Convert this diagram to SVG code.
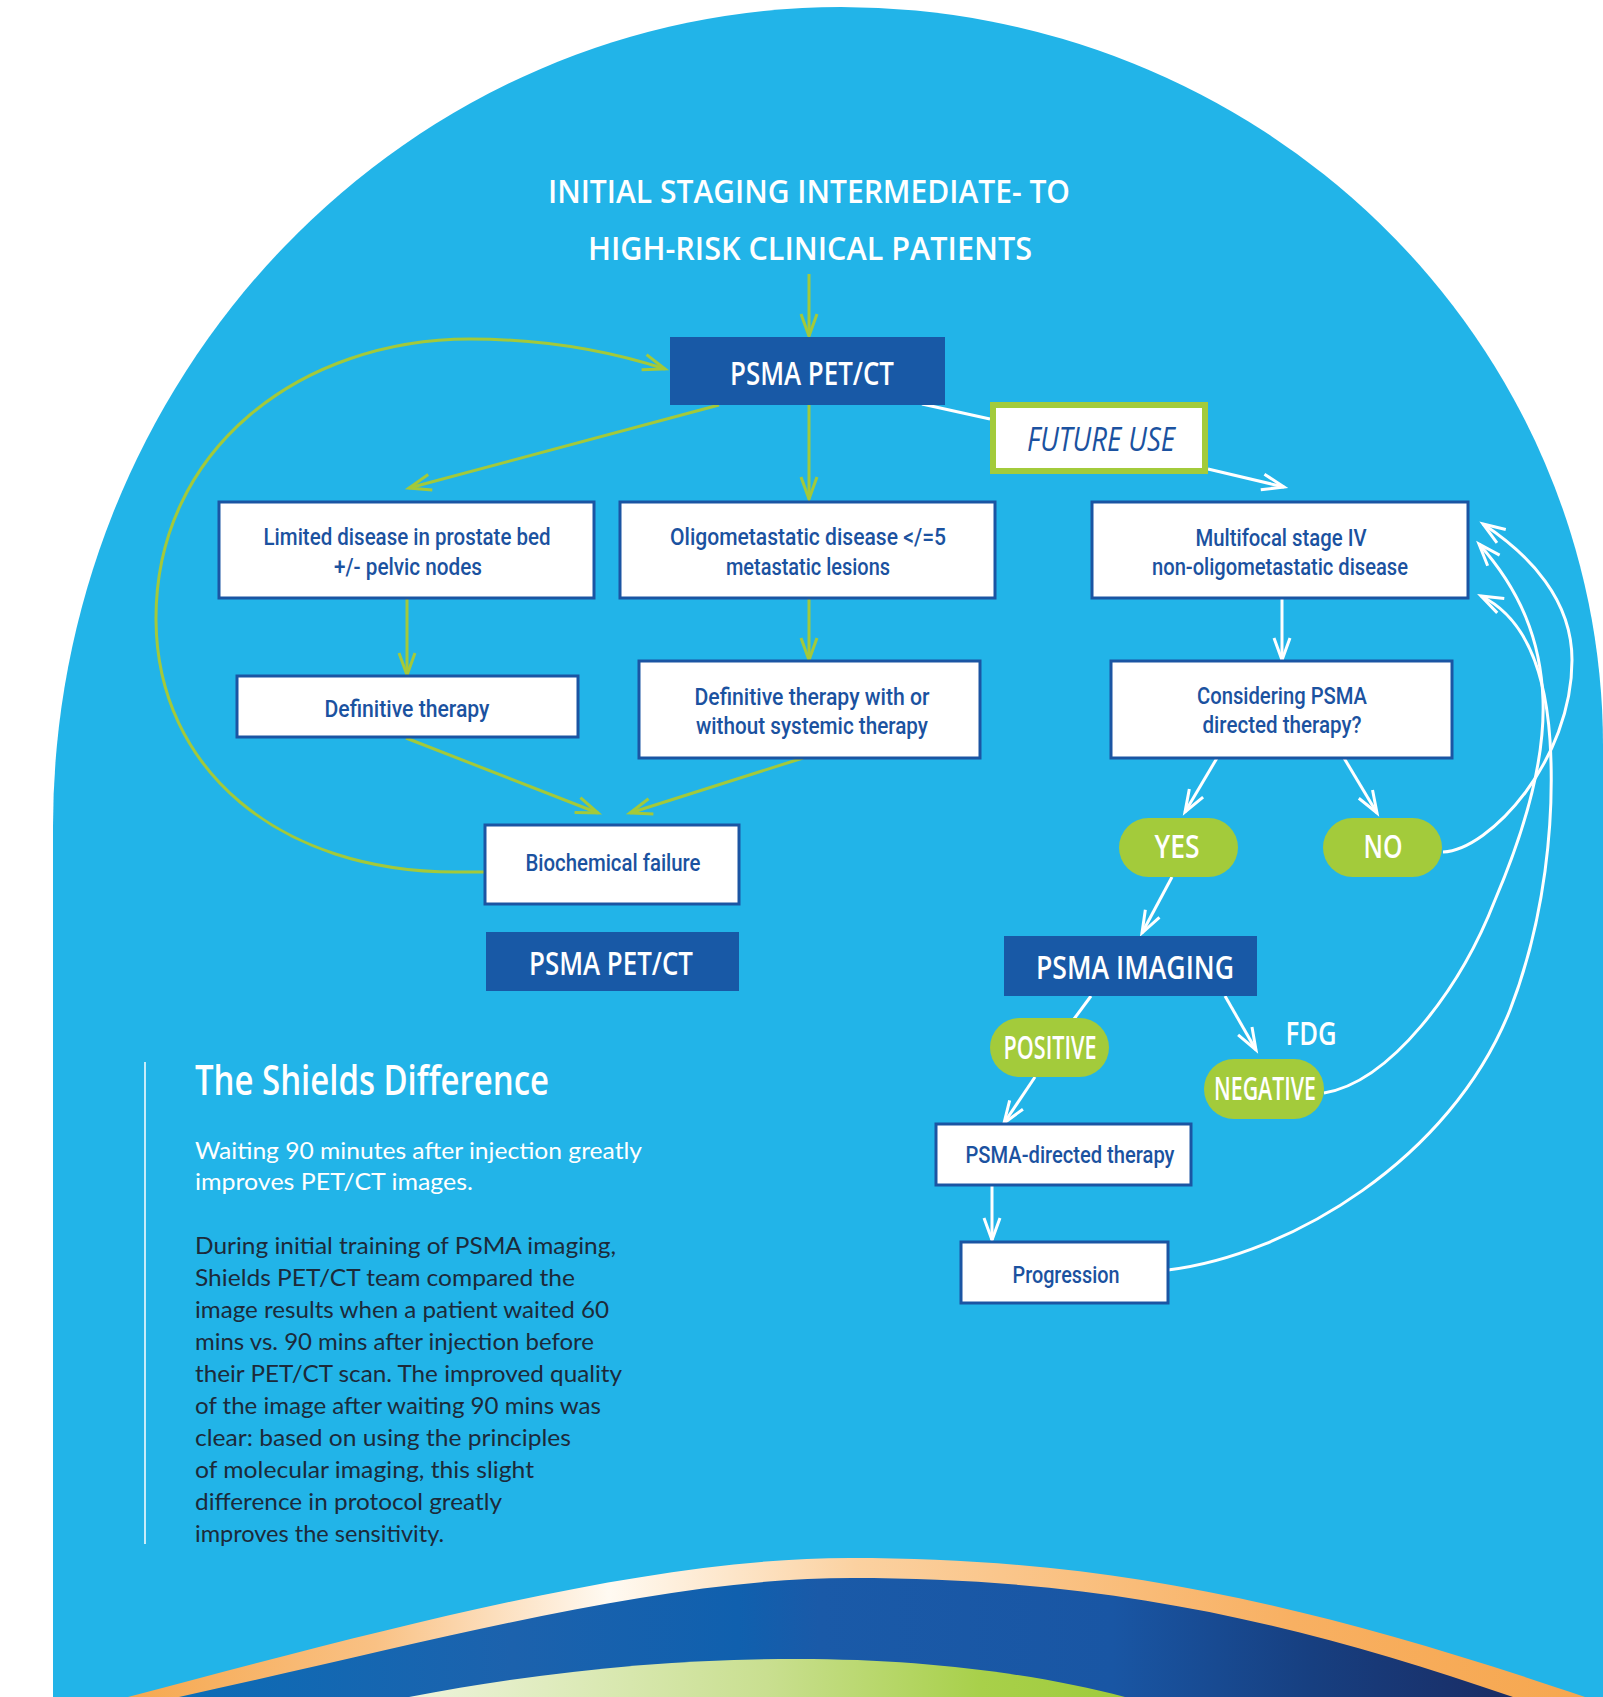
<svg xmlns="http://www.w3.org/2000/svg" width="1603" height="1697" viewBox="0 0 1603 1697">
<defs>
<style>
.box{fill:#fff;stroke:#1b55a3;stroke-width:3}
.dbox{fill:#1859a6}
.pill{fill:#a3cb3b}
.nt{font-family:Roboto,"Liberation Sans",sans-serif;font-weight:500;fill:#1b52a0;font-size:24px;text-anchor:middle}
.wt{font-family:"Open Sans","Liberation Sans",sans-serif;font-weight:600;fill:#fff;font-size:33px;text-anchor:middle}
.gl{fill:none;stroke:#a3c93a;stroke-width:3}
.wl{fill:none;stroke:#fff;stroke-width:3}
.body{font-family:Lato,"Noto Sans","Liberation Sans",sans-serif;font-size:23px}
</style>
<marker id="ag" viewBox="-25 -10 30 20" refX="0" refY="0" markerWidth="30" markerHeight="20" markerUnits="userSpaceOnUse" orient="auto" overflow="visible"><path d="M-22,-8 L0,0 L-22,8" fill="none" stroke="#a3c93a" stroke-width="3"/></marker>
<marker id="aw" viewBox="-25 -10 30 20" refX="0" refY="0" markerWidth="30" markerHeight="20" markerUnits="userSpaceOnUse" orient="auto" overflow="visible"><path d="M-22,-8 L0,0 L-22,8" fill="none" stroke="#fff" stroke-width="3"/></marker>
<linearGradient id="gOr" gradientUnits="userSpaceOnUse" x1="128" y1="0" x2="1585" y2="0">
<stop offset="0" stop-color="#f6a84f"/><stop offset="0.17" stop-color="#f9c184"/><stop offset="0.33" stop-color="#fffaf2"/><stop offset="0.5" stop-color="#fbd1a0"/><stop offset="0.8" stop-color="#f8b062"/><stop offset="1" stop-color="#f6a74f"/>
</linearGradient>
<linearGradient id="gBl" gradientUnits="userSpaceOnUse" x1="179" y1="0" x2="1513" y2="0">
<stop offset="0" stop-color="#0c6cb6"/><stop offset="0.25" stop-color="#1c62ad"/><stop offset="0.42" stop-color="#1060ae"/><stop offset="0.48" stop-color="#1a5aa8"/><stop offset="0.7" stop-color="#1956a4"/><stop offset="0.85" stop-color="#173f80"/><stop offset="1" stop-color="#1a2c64"/>
</linearGradient>
<linearGradient id="gGr" gradientUnits="userSpaceOnUse" x1="409" y1="0" x2="1125" y2="0">
<stop offset="0" stop-color="#eef4dc"/><stop offset="0.5" stop-color="#c9df90"/><stop offset="0.8" stop-color="#a8d04a"/><stop offset="1" stop-color="#9fcb3c"/>
</linearGradient>
</defs>
<rect x="0" y="0" width="1603" height="1697" fill="#fff"/>
<path d="M53,1697 L53,827 A788,820 0 0 1 841,7 A762,739 0 0 1 1603,746 L1603,1697 Z" fill="#22b4e8"/>
<g id="arches">
<path d="M128,1697 C400,1625 650,1558 850,1558 C1100,1558 1300,1600 1585,1697 Z" fill="url(#gOr)"/>
<path d="M179,1697 C440,1640 660,1578 852,1578 C1100,1578 1290,1620 1513,1697 Z" fill="url(#gBl)"/>
<path d="M409,1697 C550,1670 680,1659 797,1659 C930,1659 1040,1675 1125,1697 Z" fill="url(#gGr)"/>
</g>
<g id="title">
<text x="809" y="203" class="wt" font-size="37" textLength="522" lengthAdjust="spacingAndGlyphs">INITIAL STAGING INTERMEDIATE- TO</text>
<text x="810" y="260" class="wt" font-size="37" textLength="444" lengthAdjust="spacingAndGlyphs">HIGH-RISK CLINICAL PATIENTS</text>
</g>
<g id="connectors">
<line class="gl" x1="809" y1="274" x2="809" y2="336" marker-end="url(#ag)"/>
<line class="gl" x1="719" y1="405" x2="409" y2="488" marker-end="url(#ag)"/>
<line class="gl" x1="809" y1="405" x2="809" y2="499" marker-end="url(#ag)"/>
<line class="gl" x1="407" y1="598" x2="407" y2="675" marker-end="url(#ag)"/>
<line class="gl" x1="809" y1="598" x2="809" y2="660" marker-end="url(#ag)"/>
<line class="gl" x1="406" y1="738" x2="598" y2="813" marker-end="url(#ag)"/>
<line class="gl" x1="803" y1="758" x2="630" y2="813" marker-end="url(#ag)"/>
<path class="gl" d="M485,872 L455,872 C280,872 157,770 156,620 C155,450 300,339 470,339 C560,339 625,356 665,369" marker-end="url(#ag)"/>
<line class="wl" x1="922" y1="404" x2="990" y2="419"/>
<line class="wl" x1="1208" y1="469" x2="1284" y2="487" marker-end="url(#aw)"/>
<line class="wl" x1="1282" y1="599" x2="1282" y2="660" marker-end="url(#aw)"/>
<line class="wl" x1="1217" y1="758" x2="1185" y2="812" marker-end="url(#aw)"/>
<line class="wl" x1="1344" y1="758" x2="1377" y2="813" marker-end="url(#aw)"/>
<line class="wl" x1="1172" y1="877" x2="1142" y2="933" marker-end="url(#aw)"/>
<line class="wl" x1="1091" y1="996" x2="1074" y2="1019"/>
<line class="wl" x1="1035" y1="1077" x2="1004" y2="1123" marker-end="url(#aw)"/>
<line class="wl" x1="1225" y1="996" x2="1256" y2="1050" marker-end="url(#aw)"/>
<line class="wl" x1="992" y1="1186" x2="992" y2="1240" marker-end="url(#aw)"/>
<path class="wl" d="M1443,852 C1490,850 1572,760 1572,660 C1572,600 1530,555 1483,524" marker-end="url(#aw)"/>
<path class="wl" d="M1324,1093 C1390,1082 1460,990 1495,900 C1525,830 1545,760 1543,700 C1541,640 1520,590 1479,544" marker-end="url(#aw)"/>
<path class="wl" d="M1168,1270 C1290,1255 1450,1160 1510,1010 C1545,920 1555,820 1550,740 C1546,680 1530,620 1481,596" marker-end="url(#aw)"/>
</g>
<g id="n-psma-top"><rect class="dbox" x="670" y="337" width="275" height="68"/><text class="wt" x="812" y="385" textLength="164" lengthAdjust="spacingAndGlyphs">PSMA PET/CT</text></g>
<g id="n-future"><rect x="993" y="405" width="212" height="66" fill="#fff" stroke="#a3cb3b" stroke-width="6"/><text x="1101" y="451" font-family="'Open Sans','Liberation Sans',sans-serif" font-style="italic" font-size="33" fill="#1b52a0" text-anchor="middle" textLength="148" lengthAdjust="spacingAndGlyphs">FUTURE USE</text></g>
<g id="n-limited"><rect class="box" x="219" y="502" width="375" height="96"/><text class="nt" x="407" y="545" textLength="287" lengthAdjust="spacingAndGlyphs">Limited disease in prostate bed</text><text class="nt" x="408" y="575" textLength="148" lengthAdjust="spacingAndGlyphs">+/- pelvic nodes</text></g>
<g id="n-oligo"><rect class="box" x="620" y="502" width="375" height="96"/><text class="nt" x="808" y="545" textLength="276" lengthAdjust="spacingAndGlyphs">Oligometastatic disease &lt;/=5</text><text class="nt" x="808" y="575" textLength="164" lengthAdjust="spacingAndGlyphs">metastatic lesions</text></g>
<g id="n-multifocal"><rect class="box" x="1092" y="502" width="376" height="96"/><text class="nt" x="1281" y="546" textLength="171" lengthAdjust="spacingAndGlyphs">Multifocal stage IV</text><text class="nt" x="1280" y="575" textLength="256" lengthAdjust="spacingAndGlyphs">non-oligometastatic disease</text></g>
<g id="n-def"><rect class="box" x="237" y="676" width="341" height="61"/><text class="nt" x="407" y="717" textLength="165" lengthAdjust="spacingAndGlyphs">Definitive therapy</text></g>
<g id="n-defsys"><rect class="box" x="639" y="661" width="341" height="97"/><text class="nt" x="812" y="705" textLength="235" lengthAdjust="spacingAndGlyphs">Definitive therapy with or</text><text class="nt" x="812" y="734" textLength="232" lengthAdjust="spacingAndGlyphs">without systemic therapy</text></g>
<g id="n-considering"><rect class="box" x="1111" y="661" width="341" height="97"/><text class="nt" x="1282" y="704" textLength="170" lengthAdjust="spacingAndGlyphs">Considering PSMA</text><text class="nt" x="1282" y="733" textLength="159" lengthAdjust="spacingAndGlyphs">directed therapy?</text></g>
<g id="n-biochem"><rect class="box" x="485" y="825" width="254" height="79"/><text class="nt" x="613" y="871" textLength="175" lengthAdjust="spacingAndGlyphs">Biochemical failure</text></g>
<g id="n-psma-low"><rect class="dbox" x="486" y="932" width="253" height="59"/><text class="wt" x="611" y="975" font-size="32" textLength="164" lengthAdjust="spacingAndGlyphs">PSMA PET/CT</text></g>
<g id="n-yes"><rect class="pill" x="1119" y="818" width="119" height="59" rx="29.5"/><text class="wt" x="1177" y="858" font-size="32" textLength="45" lengthAdjust="spacingAndGlyphs">YES</text></g>
<g id="n-no"><rect class="pill" x="1323" y="818" width="119" height="59" rx="29.5"/><text class="wt" x="1383" y="858" font-size="32" textLength="39" lengthAdjust="spacingAndGlyphs">NO</text></g>
<g id="n-imaging"><rect class="dbox" x="1004" y="936" width="253" height="60"/><text class="wt" x="1135" y="979" font-size="32" textLength="198" lengthAdjust="spacingAndGlyphs">PSMA IMAGING</text></g>
<g id="n-positive"><rect class="pill" x="990" y="1018" width="119" height="59" rx="29.5"/><text class="wt" x="1050" y="1059" font-size="27" textLength="93" lengthAdjust="spacingAndGlyphs">POSITIVE</text></g>
<g id="n-fdg"><text class="wt" x="1311" y="1045" font-size="32" textLength="51" lengthAdjust="spacingAndGlyphs">FDG</text></g>
<g id="n-negative"><rect class="pill" x="1204" y="1059" width="120" height="60" rx="30"/><text class="wt" x="1265" y="1100" font-size="27" textLength="102" lengthAdjust="spacingAndGlyphs">NEGATIVE</text></g>
<g id="n-directed"><rect class="box" x="936" y="1124" width="255" height="61"/><text class="nt" x="1070" y="1163" font-size="23" textLength="209" lengthAdjust="spacingAndGlyphs">PSMA-directed therapy</text></g>
<g id="n-progression"><rect class="box" x="961" y="1242" width="207" height="61"/><text class="nt" x="1066" y="1283" font-size="23" textLength="107" lengthAdjust="spacingAndGlyphs">Progression</text></g>
<g id="shields">
<line x1="145" y1="1062" x2="145" y2="1544" stroke="#fff" stroke-width="1.5"/>
<text x="195" y="1095" font-family="'Open Sans','Liberation Sans',sans-serif" font-weight="600" font-size="42" fill="#fff" textLength="354" lengthAdjust="spacingAndGlyphs">The Shields Difference</text>
<g class="body" fill="#fff">
<text x="195" y="1159" textLength="447" lengthAdjust="spacingAndGlyphs">Waiting 90 minutes after injection greatly</text>
<text x="195" y="1190" textLength="278" lengthAdjust="spacingAndGlyphs">improves PET/CT images.</text>
</g>
<g class="body" fill="#1c2a3a">
<text x="195" y="1254" textLength="421" lengthAdjust="spacingAndGlyphs">During initial training of PSMA imaging,</text>
<text x="195" y="1286" textLength="380" lengthAdjust="spacingAndGlyphs">Shields PET/CT team compared the</text>
<text x="195" y="1318" textLength="414" lengthAdjust="spacingAndGlyphs">image results when a patient waited 60</text>
<text x="195" y="1350" textLength="399" lengthAdjust="spacingAndGlyphs">mins vs. 90 mins after injection before</text>
<text x="195" y="1382" textLength="427" lengthAdjust="spacingAndGlyphs">their PET/CT scan. The improved quality</text>
<text x="195" y="1414" textLength="406" lengthAdjust="spacingAndGlyphs">of the image after waiting 90 mins was</text>
<text x="195" y="1446" textLength="376" lengthAdjust="spacingAndGlyphs">clear: based on using the principles</text>
<text x="195" y="1478" textLength="339" lengthAdjust="spacingAndGlyphs">of molecular imaging, this slight</text>
<text x="195" y="1510" textLength="307" lengthAdjust="spacingAndGlyphs">difference in protocol greatly</text>
<text x="195" y="1542" textLength="249" lengthAdjust="spacingAndGlyphs">improves the sensitivity.</text>
</g>
</g>
</svg>
